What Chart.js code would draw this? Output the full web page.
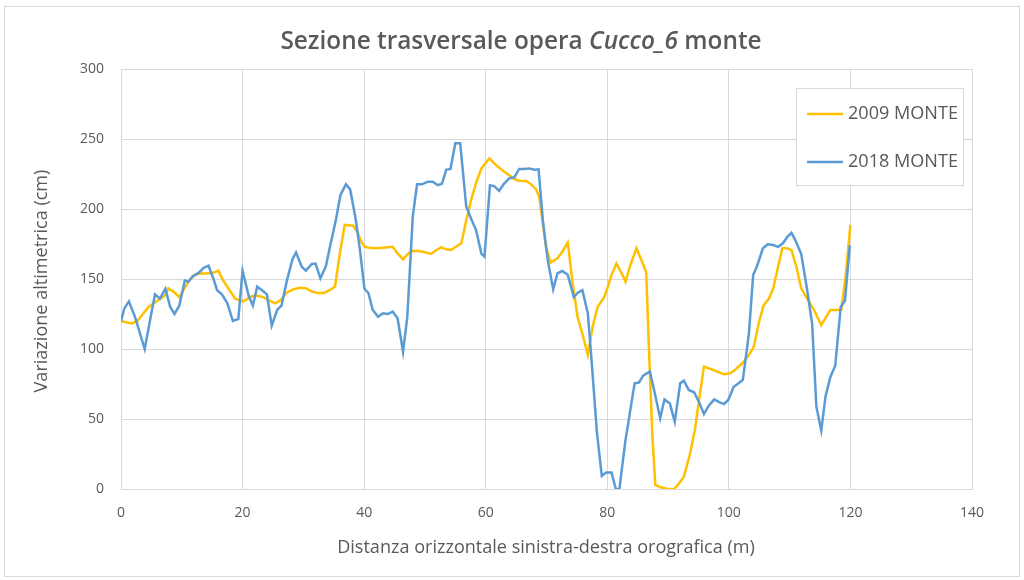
<!DOCTYPE html>
<html>
<head>
<meta charset="utf-8">
<script src="https://cdn.jsdelivr.net/npm/chart.js@4.4.1/dist/chart.umd.min.js"></script>
<style>
html,body{margin:0;padding:0;background:#fff;}
canvas{display:block;}
</style>
</head>
<body>
<canvas id="c" width="1024" height="580"></canvas>
<script>
// ---- DATA ----
const xTicks = [0, 20, 40, 60, 80, 100, 120, 140];
const yTicks = [0, 50, 100, 150, 200, 250, 300];

const x2009 = [0,0.9,1.8,2.7,3.7,4.5,5.5,6.4,7.3,7.8,8.6,9.6,10.6,11.4,12.2,13,14.1,15.2,16,16.8,17.7,18.8,20.1,20.9,21.7,22.5,23.4,24.2,25.4,26.3,27.2,28.3,29.4,30.5,31.4,32.4,33.4,34.3,35.2,36,36.8,38.2,39,39.5,40.1,40.9,42,43.1,43.9,44.7,45.5,46.4,47.2,48,48.8,49.7,51,51.9,52.7,53.5,54.3,55.1,56,56.8,57.6,58.4,59.3,60.6,61.4,62.5,63.6,64.7,65.5,66.6,67.4,68.3,68.8,69.4,69.9,70.7,71.8,72.6,73.5,74.3,75.1,75.9,76.8,77.6,78.4,79.5,80,80.7,81.5,82.5,83,83.8,84.8,85.6,86.4,86.9,87.4,87.9,88.8,89.9,91,91.8,92.6,93.6,94.4,95.1,95.9,97,98.1,99.2,100.2,101,102.2,103.3,104.1,104.9,105.7,106.6,107.3,108.1,108.8,109.5,110.3,111.1,111.9,112.9,114,115.2,116,116.7,117.8,118.5,119.2,120];
const y2009 = [120,119,118.3,120,125.5,129.8,133,135.5,138.6,143.3,141,137,144.5,150,152.9,154,154,154.5,156,149,143,136,134,136,138,138,137,135,132.6,135,140,142.6,143.8,143.3,141,140,140,142,144.5,168,188.6,188,182.6,176.6,173,172.4,172,172.4,172.6,173,168.3,164,167.9,170.2,170,169.5,167.9,170.7,172.6,171.2,170.7,173,175.5,192,206.4,218.4,229,236.2,232.6,228.4,225,221.4,220.2,220,217.9,214,208.8,189.8,173,161.7,164.8,169.5,176,147,123,111,95.7,116,130,137,143.3,152.9,161,152.9,148,160,172,163.6,155,94.5,39.8,2.9,1.2,0,0,4,8.8,25,42,63.6,87.4,85.7,83.8,82,82.6,85,89.8,95.7,101.6,118,131,136,143.3,158.8,171.9,172,170.7,158.8,143.3,136,128,117,123,127.9,127.9,128,151.6,188.6];

const x2018 = [0,0.55,1.3,2.3,3.9,4.8,5.6,6.4,7.3,8.1,8.8,9.6,10.5,11.1,11.8,12.8,13.6,14.4,15.3,15.8,16.6,17.5,18.4,19.3,20,21,21.7,22.4,23.2,24,24.8,25.7,26.4,27.3,28.2,28.8,29.7,30.4,31.4,32,32.8,33.7,34.5,35.3,36.1,37,37.7,38.6,39.3,40.05,40.7,41.4,42.3,43.1,43.9,44.7,45.5,46.4,47.1,48,48.7,49.5,50.5,51.3,52.1,52.8,53.5,54.2,55,55.8,56.8,57.6,58.4,59.3,59.8,60.7,61.4,62.2,63,63.9,64.7,65.5,66.3,67.2,68,68.7,69.4,70.2,71.1,71.8,72.6,73.5,74.5,75.1,75.9,76.8,77.5,78.3,79.1,79.8,80.7,81.4,82,82.5,83,83.7,84.5,85.2,85.9,87,87.7,88.7,89.4,90.3,91.1,92,92.6,93.4,94.3,95.1,95.9,96.7,97.6,98.4,99.2,99.9,100.8,101.6,102.3,103.3,104,104.6,105.6,106.4,107.3,108.1,108.9,109.6,110.3,110.9,111.9,112.8,113.7,114.4,115.2,115.9,116.7,117.5,118.4,119.1,119.9];
const y2018 = [120,129,134,123,100,121,139,136,143,130,125,131,149,148,152,154.5,158,159.5,149,142,139,132.6,120,121.4,156,138,131,144.5,142,139,116.7,128,131,149,164,169,159,156,160.7,161,150.5,159,175.5,191,210,217.6,214,193,171,143,140,128,123,125.5,125,126.7,122,98,123,194.5,217.6,217.6,219.5,219.5,217,218,228,228.6,247,247,201.6,193,185,168,166,217,216.4,213,218,222,222.6,228.6,228.6,229,228,228.3,192,163.6,142.6,154,155.7,153,137,140,142,125.5,87,40,9.3,11.7,11.7,0,0,18,35,54,75.5,76,81,84,70.7,50.5,64,61,48,75.5,77.4,70.7,69,62,53.6,59.5,64,62,60.7,63.6,73,75.5,77.9,111,152.9,158.8,171.9,174.8,174.3,173,175.5,180,183,178,168,144.5,118,58.8,41.7,66,80,88,130,134.5,174];

const seriesNames = ['2009 MONTE', '2018 MONTE'];
const titleParts = [['Sezione trasversale opera ', false], ['Cucco_6', true], [' monte', false]];
const xTitle = 'Distanza orizzontale sinistra-destra orografica (m)';
const yTitle = 'Variazione altimetrica (cm)';

// ---- STYLE ----
const FONT = '"Open Sans", "Noto Sans", sans-serif';
const TXT = '#595959';
const GRID = '#d9d9d9';
const C2009 = '#FFC000';
const C2018 = '#5B9BD5';

const pts = (xs, ys) => xs.map((x, i) => ({x: x, y: ys[i]}));

// font size that makes a text span a given width
function fitSize(ctx, text, style, target) {
  ctx.font = style + ' 20px ' + FONT;
  const w = ctx.measureText(text).width;
  return 20 * target / w;
}

const decor = {
  id: 'decor',
  beforeDraw(chart) {
    const ctx = chart.ctx;
    ctx.save();
    ctx.fillStyle = '#fff';
    ctx.fillRect(0, 0, chart.width, chart.height);
    ctx.strokeStyle = GRID;
    ctx.lineWidth = 1;
    ctx.strokeRect(4.5, 6.5, 1015, 570);
    ctx.restore();
  },
  afterDraw(chart) {
    const ctx = chart.ctx;
    ctx.save();
    // title
    const fullTitle = titleParts.map(p => p[0]).join('');
    const tsize = fitSize(ctx, fullTitle, '600', 487);
    let total = 0;
    const widths = titleParts.map(([t, it]) => {
      ctx.font = (it ? 'italic ' : '') + '600 ' + tsize + 'px ' + FONT;
      const w = ctx.measureText(t).width; total += w; return w;
    });
    let x = 521 - total / 2;
    ctx.fillStyle = TXT;
    ctx.textBaseline = 'middle';
    ctx.textAlign = 'left';
    titleParts.forEach(([t, it], i) => {
      ctx.font = (it ? 'italic ' : '') + '600 ' + tsize + 'px ' + FONT;
      ctx.fillText(t, x, 42);
      x += widths[i];
    });
    // axis titles
    const ysz = fitSize(ctx, yTitle, '', 223);
    ctx.font = ysz + 'px ' + FONT;
    ctx.textAlign = 'center';
    ctx.fillText(xTitle, 546, 548);
    ctx.save();
    ctx.translate(42, 281);
    ctx.rotate(-Math.PI / 2);
    ctx.fillText(yTitle, 0, 0);
    ctx.restore();
    // legend
    ctx.fillStyle = '#fff';
    ctx.fillRect(796.5, 88.5, 167, 97);
    ctx.strokeStyle = GRID;
    ctx.lineWidth = 1;
    ctx.strokeRect(796.5, 88.5, 167, 97);
    const items = [[seriesNames[0], C2009, 114], [seriesNames[1], C2018, 162]];
    const lsz = fitSize(ctx, seriesNames[0], '', 110);
    ctx.font = lsz + 'px ' + FONT;
    ctx.textAlign = 'left';
    items.forEach(([name, col, yy]) => {
      ctx.strokeStyle = col;
      ctx.lineWidth = 2.5;
      ctx.beginPath();
      ctx.moveTo(807, yy);
      ctx.lineTo(843, yy);
      ctx.stroke();
      ctx.fillStyle = TXT;
      ctx.fillText(name, 848, yy);
    });
    ctx.restore();
  }
};

new Chart(document.getElementById('c'), {
  type: 'scatter',
  data: {
    datasets: [
      {label: seriesNames[0], data: pts(x2009, y2009), showLine: true, borderColor: C2009, backgroundColor: C2009, borderWidth: 2.5, pointRadius: 0, order: 1},
      {label: seriesNames[1], data: pts(x2018, y2018), showLine: true, borderColor: C2018, backgroundColor: C2018, borderWidth: 2.5, pointRadius: 0, order: 0}
    ]
  },
  options: {
    responsive: false,
    animation: false,
    devicePixelRatio: 1,
    layout: {padding: {top: 69, right: 52, left: 0, bottom: 0}},
    plugins: {legend: {display: false}, title: {display: false}, tooltip: {enabled: false}},
    scales: {
      x: {
        type: 'linear', min: 0, max: 140,
        afterBuildTicks: s => { s.ticks = xTicks.map(v => ({value: v})); },
        afterFit: s => { s.height = 91; },
        ticks: {color: TXT, font: {family: FONT, size: 14}, padding: 16},
        grid: {color: GRID, drawTicks: false, lineWidth: 1},
        border: {color: GRID}
      },
      y: {
        type: 'linear', min: 0, max: 300,
        afterBuildTicks: s => { s.ticks = yTicks.map(v => ({value: v})); },
        afterFit: s => { s.width = 121; },
        ticks: {color: TXT, font: {family: FONT, size: 14}, padding: 17},
        grid: {color: GRID, drawTicks: false, lineWidth: 1},
        border: {color: GRID}
      }
    }
  },
  plugins: [decor]
});
</script>
</body>
</html>
